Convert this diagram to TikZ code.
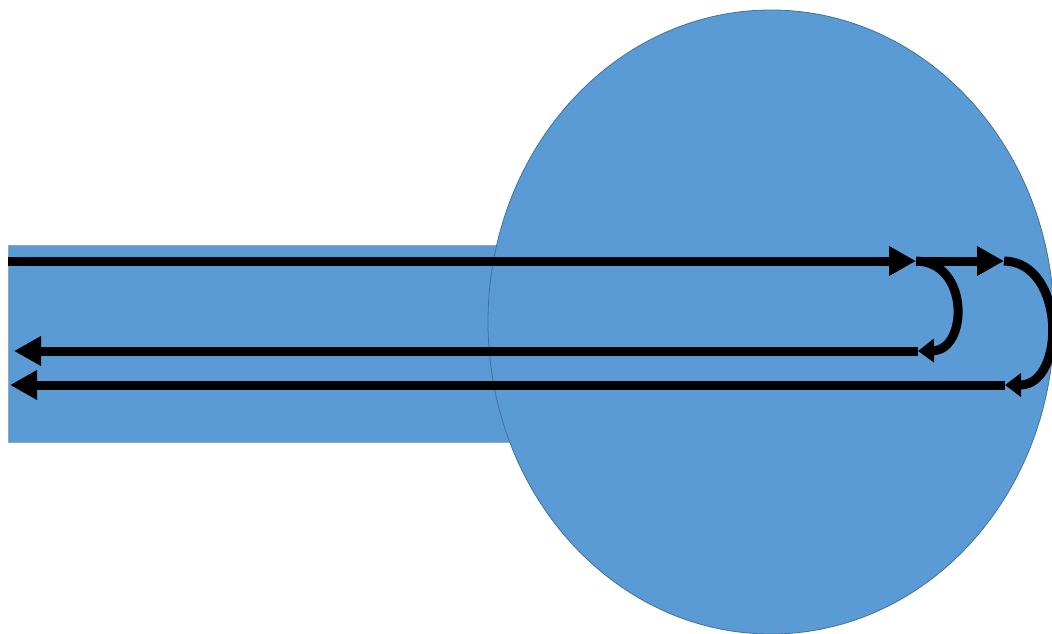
\documentclass[tikz,border=0pt]{standalone}
\usetikzlibrary{arrows.meta,shapes.geometric}
\definecolor{fillblue}{HTML}{5B9BD5}
\definecolor{edgeblue}{HTML}{41719C}
\tikzset{
  blueshape/.style={fill=fillblue, draw=edgeblue, line width=0.8pt},
  ray/.style={line width=9pt, -{Triangle[length=27pt,width=28pt]}},
  turnarrow/.style={line width=9pt, -{Triangle[length=16pt,width=23pt]}}
}
\begin{document}
\begin{tikzpicture}[x=1pt,y=-1pt]
\useasboundingbox (0,0) rectangle (1052,634);
% shapes
\fill[fillblue] (8,245) rectangle (520,442);
\draw[edgeblue!60, line width=0.5pt] (520,245) -- (8,245) -- (8,442) -- (520,442);
\node[blueshape, ellipse, minimum width=566pt, minimum height=624pt, inner sep=0pt] (ball) at (771,322) {};
% coordinates
\coordinate (s1) at (8,261);
\coordinate (e1) at (916,261);
\coordinate (e2) at (1004,261);
\coordinate (r1) at (918,351);
\coordinate (f1) at (14,351);
\coordinate (r2) at (1005,385);
\coordinate (f2) at (10,385);
% straight rays
\draw[ray] (s1) -- (e1);
\draw[ray] (e1) -- (e2);
\draw[ray] (r1) -- (f1);
\draw[ray] (r2) -- (f2);
% turns
\draw[turnarrow] (e1) .. controls (970,262) and (968,350) .. (r1);
\draw[turnarrow] (e2) .. controls (1066,262) and (1066,385) .. (r2);
\end{tikzpicture}
\end{document}
